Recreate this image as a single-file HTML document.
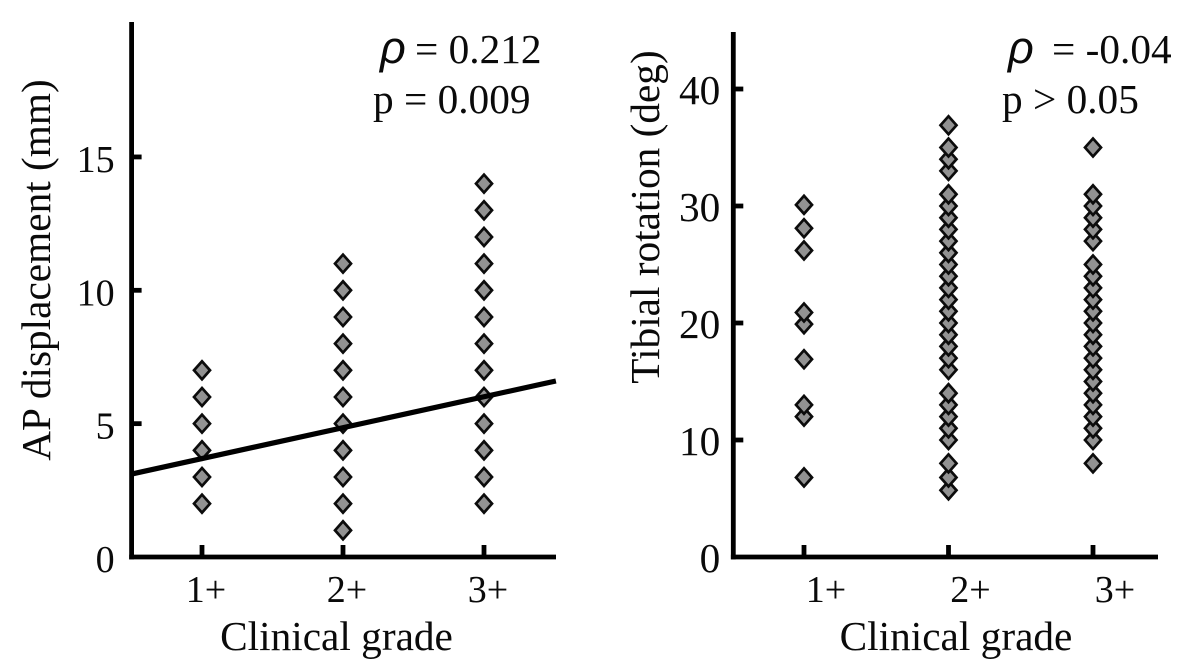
<!DOCTYPE html>
<html lang="en">
<head>
<meta charset="utf-8">
<title>Clinical grade correlations</title>
<style>
html,body{margin:0;padding:0;background:#fff;width:1200px;height:667px;overflow:hidden}
svg{display:block}
text{font-family:"Liberation Serif",serif;fill:#0a0a0a;font-size:41.3px}
</style>
</head>
<body>
<svg id="figure" width="1200" height="667" viewBox="0 0 1200 667" xmlns="http://www.w3.org/2000/svg"></svg>
<script>
const gradeLabels = ['1+', '2+', '3+'];

const leftYTicks = [0, 5, 10, 15];
const leftGrade1 = [2, 3, 4, 5, 6, 7];
const leftGrade2 = [1, 2, 3, 4, 5, 6, 7, 8, 9, 10, 11];
const leftGrade3 = [2, 3, 4, 5, 6, 7, 8, 9, 10, 11, 12, 13, 14];
const fitGrades = [0.5, 3.51];
const fitValues = [3.11, 6.6];

const rightYTicks = [0, 10, 20, 30, 40];
const rightGrade1 = [6.8, 12, 13, 16.9, 19.9, 20.9, 26.2, 28.1, 30.1];
const rightGrade2 = [5.7, 6.8, 8, 10, 11, 12, 13, 14, 16, 17, 18, 19, 20, 21, 22, 23, 24, 25, 26, 27, 28, 29, 30, 31, 33, 34, 35, 36.9];
const rightGrade3 = [8, 10, 11, 12, 13, 14, 15, 16, 17, 18, 19, 20, 21, 22, 23, 24, 25, 27, 28, 29, 30, 31, 35];

const NS = 'http://www.w3.org/2000/svg';
const svg = document.getElementById('figure');

function make(tag, attrs, parent, text) {
  const el = document.createElementNS(NS, tag);
  for (const k in attrs) el.setAttribute(k, attrs[k]);
  if (text !== undefined) el.textContent = text;
  parent.appendChild(el);
  return el;
}

function drawPanel(cfg) {
  const xs = g => cfg.g1 + (g - 1) * cfg.gStep;
  const ys = v => cfg.y0 - v * cfg.yUnit;

  const panel = make('g', {}, svg);
  
  

  const axisStyle = {stroke: '#000', 'stroke-width': 4.8, fill: 'none'};

  const yAxis = make('line', Object.assign({x1: cfg.x0, x2: cfg.x0, y1: cfg.top, y2: cfg.y0 + 2.4}, axisStyle), panel);
  
  

  const xAxis = make('line', Object.assign({x1: cfg.x0 - 2.4, x2: cfg.xEnd, y1: cfg.y0, y2: cfg.y0}, axisStyle), panel);
  
  

  cfg.yTicks.forEach(v => {
    if (v !== 0) {
      const tick = make('line', Object.assign({x1: cfg.x0, x2: cfg.x0 + 10, y1: ys(v), y2: ys(v)}, axisStyle), panel);
      
      
    }
    const label = make('text', {x: cfg.x0 - cfg.tickGap, y: ys(v) + 15, 'text-anchor': 'end', style: 'font-size:' + cfg.tickFont + 'px'}, panel, String(v));
    
    
  });

  gradeLabels.forEach((name, i) => {
    const x = xs(i + 1);
    const tick = make('line', Object.assign({x1: x, x2: x, y1: cfg.y0 - 12, y2: cfg.y0}, axisStyle), panel);
    
    
    const label = make('text', {x: x + cfg.labelShift, y: 602, 'text-anchor': 'middle', style: 'font-size:38px'}, panel, name);
    
    
  });

  const xTitle = make('text', {x: cfg.xTitleX, y: 650, 'text-anchor': 'middle'}, panel, 'Clinical grade');
  
  

  const yTitle = make('text', {x: 0, y: 0, 'text-anchor': 'middle', transform: 'translate(' + cfg.yTitleX + ' ' + cfg.yTitleY + ') rotate(-90)'}, panel, cfg.yTitle);
  
  

  cfg.series.forEach((values, i) => {
    values.forEach(v => {
      const cx = xs(i + 1), cy = ys(v), rx = 8, ry = 9;
      const mark = make('polygon', {
        points: [[cx, cy - ry], [cx + rx, cy], [cx, cy + ry], [cx - rx, cy]].join(' '),
        fill: '#929292', stroke: '#0c0c0c', 'stroke-width': 2.7, 'stroke-linejoin': 'miter'
      }, panel);
      
      
    });
  });

  if (cfg.fit) {
    const fit = make('line', {
      x1: xs(cfg.fit.g[0]), y1: ys(cfg.fit.v[0]),
      x2: xs(cfg.fit.g[1]), y2: ys(cfg.fit.v[1]),
      stroke: '#000', 'stroke-width': 5.2
    }, panel);
    
    
  }

  cfg.notes.forEach(n => {
    const t = make('text', {x: n.x, y: n.y}, panel, n.text);
    
    
    if (n.sym) {
      t.setAttribute('style', 'font-family:"Liberation Sans",sans-serif;font-style:italic;font-size:45px');
    }
  });
}

drawPanel({
  name: 'left-panel',
  x0: 131.6, top: 22, xEnd: 556, y0: 557, yUnit: 26.67,
  g1: 202, gStep: 141, labelShift: 4, tickGap: 17, tickFont: 38,
  yTicks: leftYTicks,
  series: [leftGrade1, leftGrade2, leftGrade3],
  fit: {g: fitGrades, v: fitValues},
  xTitleX: 336.5, yTitleX: 50, yTitleY: 270,
  yTitle: 'AP displacement (mm)',
  notes: [
    {x: 380, y: 63, text: 'ρ', sym: true, name: 'rho-symbol'},
    {x: 415, y: 63, text: '= 0.212', name: 'rho-value'},
    {x: 373, y: 113, text: 'p = 0.009', name: 'p-value'}
  ]
});

drawPanel({
  name: 'right-panel',
  x0: 733.3, top: 32, xEnd: 1158, y0: 557, yUnit: 11.7,
  g1: 804, gStep: 144.5, labelShift: 22, tickGap: 13, tickFont: 41.3,
  yTicks: rightYTicks,
  series: [rightGrade1, rightGrade2, rightGrade3],
  fit: null,
  xTitleX: 956, yTitleX: 659, yTitleY: 217,
  yTitle: 'Tibial rotation (deg)',
  notes: [
    {x: 1008, y: 63, text: 'ρ', sym: true, name: 'rho-symbol'},
    {x: 1052, y: 63, text: '= -0.04', name: 'rho-value'},
    {x: 1002, y: 113, text: 'p > 0.05', name: 'p-value'}
  ]
});
</script>
</body>
</html>
